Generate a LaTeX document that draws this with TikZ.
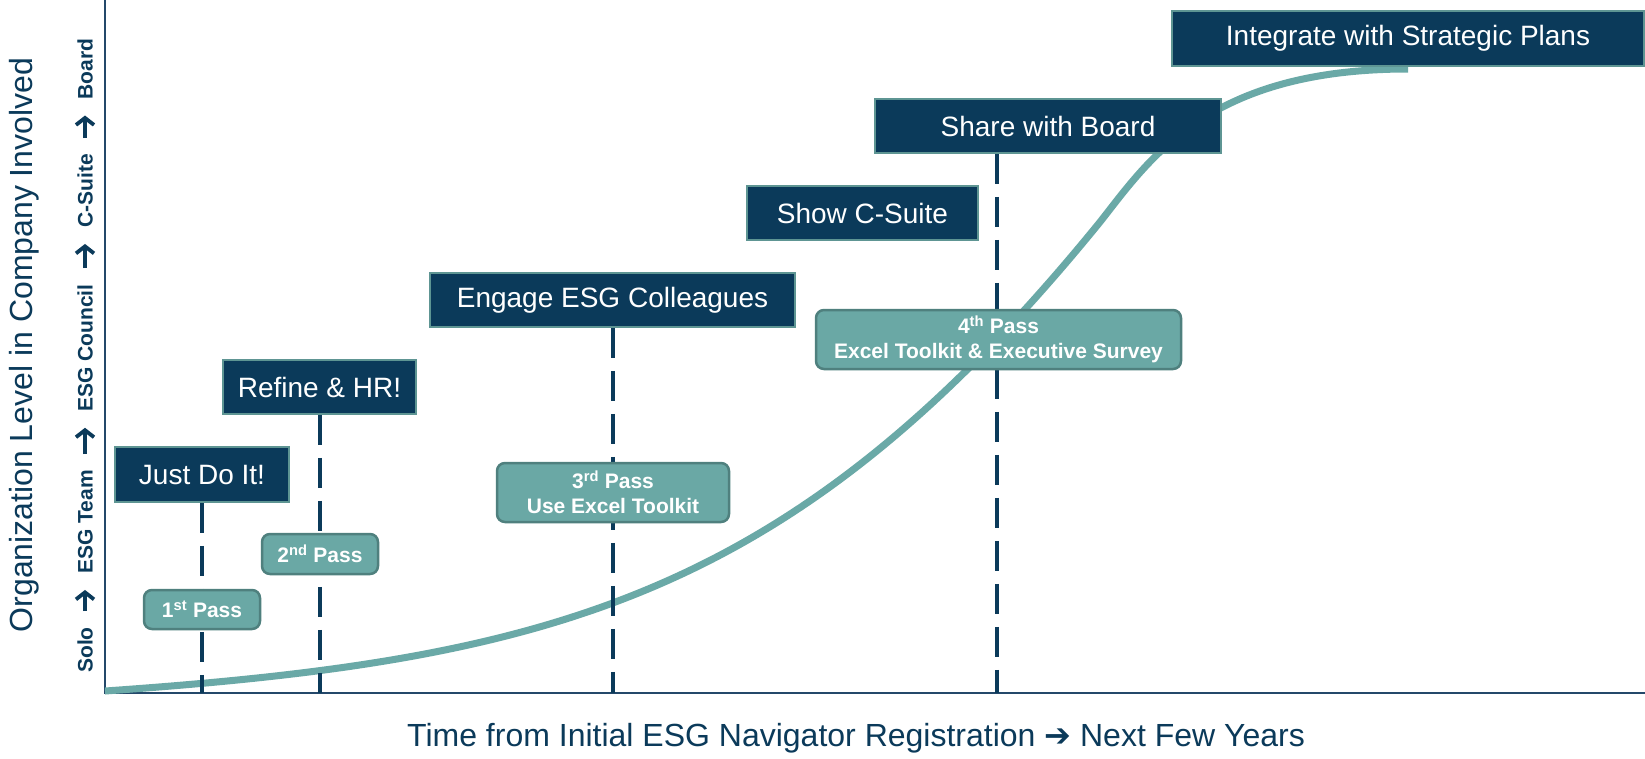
\documentclass[tikz,border=0pt]{standalone}
\usepackage{fontspec}
\setmainfont{Liberation Sans}
\newfontfamily\dejavu{DejaVu Sans}
\usetikzlibrary{arrows.meta,backgrounds}
\definecolor{navy}{HTML}{0B3A5A}
\definecolor{tealfill}{HTML}{6AA8A5}
\definecolor{tealedge}{HTML}{4F807E}
\definecolor{navyedge}{HTML}{5E9593}
\definecolor{tealline}{HTML}{6AA9A7}
\definecolor{axisc}{HTML}{24486A}
\begin{document}
\begin{tikzpicture}[x=1pt,y=-1pt,
 navybox/.style={draw=navyedge, line width=1.5pt, fill=navy, text=white, font=\fontsize{28}{32}\selectfont, inner sep=0pt},
 passbox/.style={draw=tealedge, line width=2.5pt, fill=tealfill, text=white, rounded corners=8pt, font=\bfseries\fontsize{21}{25}\selectfont, inner sep=0pt, align=center},
 dashline/.style={draw=navy, line width=4pt, dash pattern=on 30pt off 13pt},
 growth/.style={draw=tealline, line width=7pt},
 axisline/.style={draw=axisc, line width=1.5pt},
 lvl/.style={rotate=90, text=navy, font=\bfseries\fontsize{21}{24}\selectfont, inner sep=0pt, text height=15pt, text depth=0pt},
 lvlarrow/.style={draw=navy, line width=3.8pt, -{Straight Barb[length=7pt,width=18pt]}, shorten <=16pt, shorten >=16pt},
 axislabel/.style={text=navy, font=\fontsize{32}{36}\selectfont, inner sep=0pt}]
\useasboundingbox (0,0) rectangle (1645,758);

% axis coordinates
\coordinate (ytop) at (105,0);
\coordinate (origin) at (105,693);
\coordinate (xend) at (1645,693);
\coordinate (b1) at (202,693);
\coordinate (b2) at (319.5,693);
\coordinate (b3) at (612.5,693);
\coordinate (b4) at (997,693);
\coordinate (cstart) at (105,691);
\coordinate (cmid) at (1100,222);
\coordinate (cend) at (1408,69);

% stage boxes
\node[navybox, minimum width=174pt, minimum height=55pt] (jdi) at (202,474.5) {Just Do It!};
\node[navybox, minimum width=193pt, minimum height=54pt] (refine) at (319.5,387) {Refine \& HR!};
\node[navybox, minimum width=365pt, minimum height=54pt] (engage) at (612.5,300) {Engage ESG Colleagues};
\node[navybox, minimum width=231pt, minimum height=54pt] (csuite) at (862.5,213) {Show C-Suite};
\node[navybox, minimum width=346pt, minimum height=54pt] (share) at (1048,126) {Share with Board};
\node[navybox, minimum width=472pt, minimum height=55pt] (integrate) at (1408,38.5) {Integrate with Strategic Plans};

% pass boxes
\node[passbox, minimum width=116pt, minimum height=39pt] (p1) at (202,609.5) {1\textsuperscript{st} Pass};
\node[passbox, minimum width=116pt, minimum height=40pt] (p2) at (320,554) {2\textsuperscript{nd} Pass};
\node[passbox, minimum width=232pt, minimum height=59pt] (p3) at (613,492.5) {3\textsuperscript{rd} Pass\\Use Excel Toolkit};
\node[passbox, minimum width=365pt, minimum height=59pt] (p4) at (998.5,339.5) {4\textsuperscript{th} Pass\\Excel Toolkit \& Executive Survey};

% axis labels
\node[axislabel, rotate=90] (ylabel) at (24,345) {Organization Level in Company Involved};
\node[axislabel] (xlabel) at (856,738) {Time from Initial ESG Navigator Registration {\dejavu\fontsize{32}{36}\selectfont ➔} Next Few Years};

% level labels
\node[lvl] (solo) at (85,650) {Solo};
\node[lvl] (team) at (85,522) {ESG Team};
\node[lvl] (council) at (85,348) {ESG Council};
\node[lvl] (csuitel) at (85,191) {C-Suite};
\node[lvl] (board) at (85,69) {Board};
\draw[lvlarrow] (solo) -- (team);
\draw[lvlarrow] (team) -- (council);
\draw[lvlarrow] (council) -- (csuitel);
\draw[lvlarrow] (csuitel) -- (board);

\begin{scope}[on background layer]
\fill[white] (0,0) rectangle (1645,758);
\draw[axisline] (ytop) -- (origin) -- (xend);
\draw[growth] (cstart) .. controls (555,659.5) and (795,597) .. (cmid)
  .. controls (1150,158.5) and (1208,69) .. (cend);
\draw[dashline] (jdi.south) -- (b1);
\draw[dashline] (refine.south) -- (b2);
\draw[dashline] (engage.south) -- (b3);
\draw[dashline] (share.south -| b4) -- (b4);
\end{scope}
\end{tikzpicture}
\end{document}
